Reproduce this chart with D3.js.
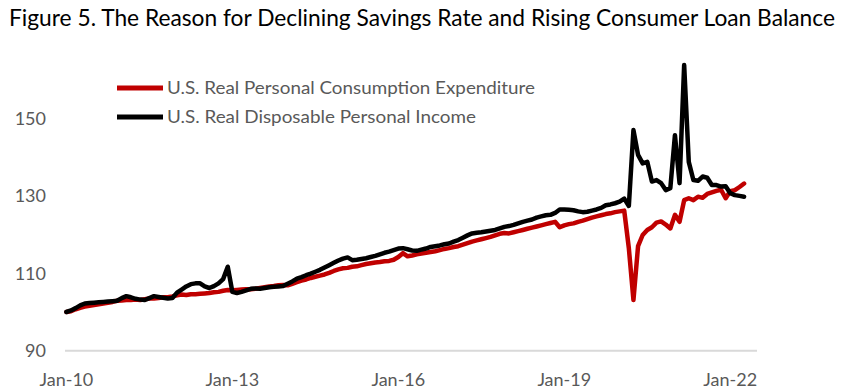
<!DOCTYPE html>
<html><head><meta charset="utf-8">
<script src="https://cdn.jsdelivr.net/npm/d3@7"></script>
<style>body{margin:0;background:#fff}svg{display:block}</style>
</head><body>
<svg id="c" width="844" height="392"></svg>
<script>
const title = "Figure 5. The Reason for Declining Savings Rate and Rising Consumer Loan Balance";
const seriesNames = ["U.S. Real Personal Consumption Expenditure", "U.S. Real Disposable Personal Income"];
const seriesColors = ["#C00000", "#000000"];
const startYear = 2010, startMonth = 0; // Jan-10, monthly
const xTickIndex = [0, 36, 72, 108, 144];
const xTickLabels = ["Jan-10", "Jan-13", "Jan-16", "Jan-19", "Jan-22"];
const yTicks = [90, 110, 130, 150];
// Real PCE (index, Jan-10 = 100), Jan-10 .. Apr-22
const pce = [
 100.0,100.2,100.7,101.1,101.4,101.6,101.8,102.0,102.2,102.4,102.6,102.9,
 103.0,103.1,103.1,103.2,103.1,103.3,103.5,103.5,103.6,103.8,103.8,104.0,
 104.3,104.5,104.4,104.6,104.6,104.7,104.8,104.9,105.1,105.2,105.5,105.7,
 105.6,105.7,105.8,105.9,105.9,106.0,106.2,106.4,106.6,106.7,106.9,107.0,
 106.9,107.3,107.7,108.1,108.4,108.8,109.1,109.4,109.7,110.1,110.6,111.0,
 111.3,111.4,111.7,111.8,112.1,112.4,112.6,112.8,112.9,113.1,113.2,113.5,
 114.2,115.2,114.4,114.6,114.9,115.1,115.3,115.5,115.7,116.0,116.3,116.5,
 116.8,117.0,117.4,117.8,118.2,118.5,118.8,119.1,119.4,119.8,120.2,120.4,
 120.3,120.6,120.9,121.2,121.5,121.8,122.1,122.4,122.7,123.0,123.3,121.9,
 122.4,122.7,122.9,123.3,123.6,124.0,124.4,124.7,125.0,125.3,125.5,125.8,
 126.0,126.2,116.5,103.1,117.0,119.9,121.2,121.9,123.1,123.4,122.6,121.6,
 125.1,123.3,128.9,129.4,128.9,129.8,129.5,130.5,130.9,131.3,131.6,129.4,
 131.2,131.5,132.3,133.2
];
// Real Disposable Personal Income (index, Jan-10 = 100), Jan-10 .. Apr-22
const dpi = [
 100.0,100.4,101.0,101.7,102.2,102.3,102.4,102.5,102.6,102.7,102.8,102.9,
 103.6,104.1,103.8,103.4,103.2,103.1,103.6,104.1,103.9,103.7,103.5,103.6,
 105.0,105.8,106.6,107.2,107.4,107.4,106.6,106.2,106.7,107.4,108.5,111.7,
 105.2,104.9,105.2,105.6,106.0,106.1,106.0,106.2,106.4,106.5,106.6,106.7,
 107.3,107.9,108.6,109.0,109.5,109.9,110.4,110.9,111.5,112.1,112.7,113.3,
 113.8,114.1,113.4,113.5,113.7,113.9,114.2,114.5,114.9,115.3,115.6,116.0,
 116.4,116.5,116.2,115.9,115.8,116.1,116.4,116.8,117.0,117.2,117.5,117.7,
 118.2,118.6,119.2,119.8,120.3,120.5,120.6,120.8,121.0,121.2,121.6,122.0,
 122.2,122.5,122.9,123.3,123.6,123.9,124.4,124.7,125.0,125.1,125.6,126.5,
 126.5,126.4,126.3,126.0,125.8,125.9,126.2,126.5,126.9,127.6,127.8,128.1,
 128.5,129.3,127.4,147.0,140.6,138.4,138.8,133.7,134.1,133.3,131.5,132.0,
 145.7,133.3,163.8,138.8,134.1,133.9,135.0,134.7,132.8,132.8,132.4,132.5,
 130.7,130.2,130.0,129.8
];

const svg = d3.select("#c");
const font = "Lato, 'Open Sans', sans-serif";

const x = d3.scaleLinear().domain([-0.3, 149.8]).range([65, 757]);
const y = d3.scaleLinear().domain([90, 170]).range([350.7, 41.1]);

// title
const t = svg.append("text").attr("x", 422).attr("y", 26).attr("text-anchor", "middle")
  .attr("font-family", font).attr("font-size", 23).attr("fill", "#000").text(title);
t.attr("textLength", 826).attr("lengthAdjust", "spacingAndGlyphs");

// x axis line
svg.append("line").attr("x1", x.range()[0]).attr("x2", x.range()[1])
  .attr("y1", y(90)).attr("y2", y(90)).attr("stroke", "#d9d9d9").attr("stroke-width", 2);

// y labels
svg.append("g").selectAll("text").data(yTicks).join("text")
  .attr("x", 46).attr("y", d => y(d)).attr("dy", "0.36em").attr("text-anchor", "end")
  .attr("font-family", font).attr("font-size", 18).attr("fill", "#595959").text(d => d);

// x labels
svg.append("g").selectAll("text").data(xTickIndex).join("text")
  .attr("x", d => x(d)).attr("y", 386).attr("text-anchor", "middle")
  .attr("font-family", font).attr("font-size", 18).attr("fill", "#595959")
  .text((d, i) => xTickLabels[i]);

const line = d3.line().x((d, i) => x(i)).y(d => y(d));
[pce, dpi].forEach((s, k) => {
  svg.append("path").datum(s).attr("d", line).attr("fill", "none")
    .attr("stroke", seriesColors[k]).attr("stroke-width", 4.5)
    .attr("stroke-linejoin", "round").attr("stroke-linecap", "round");
});

// legend
const legY = [88, 117];
const legW = [368, 309];
seriesNames.forEach((n, k) => {
  svg.append("line").attr("x1", 117).attr("x2", 163).attr("y1", legY[k]).attr("y2", legY[k])
    .attr("stroke", seriesColors[k]).attr("stroke-width", 5);
  svg.append("text").attr("x", 167).attr("y", legY[k]).attr("dy", "0.36em")
    .attr("font-family", font).attr("font-size", 18).attr("fill", "#595959")
    .attr("textLength", legW[k]).attr("lengthAdjust", "spacingAndGlyphs").text(n);
});
</script>
</body></html>
